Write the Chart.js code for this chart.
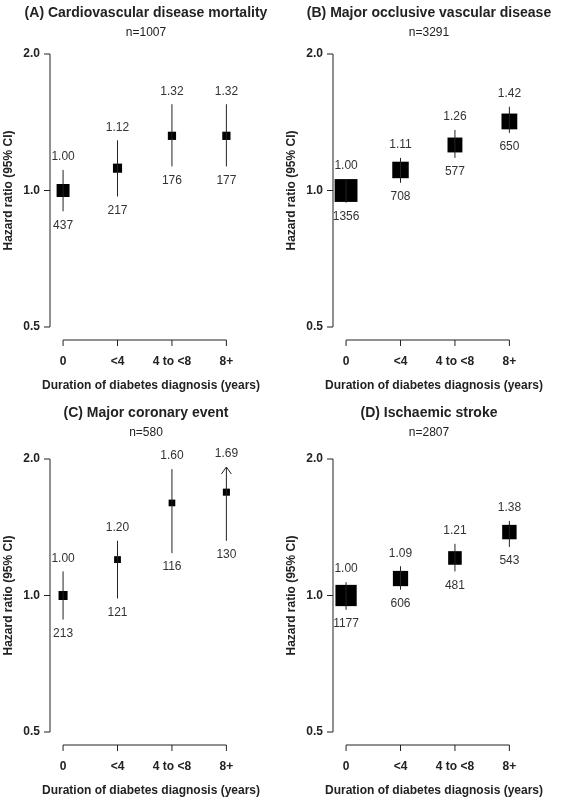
<!DOCTYPE html>
<html>
<head>
<meta charset="utf-8">
<script src="https://cdn.jsdelivr.net/npm/chart.js@4"></script>
<style>
  body { margin: 0; background: #fff; }
  .panel { position: absolute; width: 283px; height: 400px; }
</style>
</head>
<body>
<div class="panel" style="left:0;top:0"><canvas id="cA"></canvas></div>
<div class="panel" style="left:283px;top:0"><canvas id="cB"></canvas></div>
<div class="panel" style="left:0;top:400px"><canvas id="cC"></canvas></div>
<div class="panel" style="left:283px;top:400px"><canvas id="cD"></canvas></div>
<script>
var categories = ["0", "<4", "4 to <8", "8+"];
var yTicks = [0.5, 1.0, 2.0];

var titles = ["(A) Cardiovascular disease mortality", "(B) Major occlusive vascular disease",
              "(C) Major coronary event", "(D) Ischaemic stroke"];
var totals = ["n=1007", "n=3291", "n=580", "n=2807"];

var hrA = [1.00, 1.12, 1.32, 1.32];
var loA = [0.90, 0.97, 1.13, 1.13];
var hiA = [1.11, 1.29, 1.55, 1.55];
var nA = [437, 217, 176, 177];

var hrB = [1.00, 1.11, 1.26, 1.42];
var loB = [0.94, 1.04, 1.18, 1.34];
var hiB = [1.06, 1.18, 1.36, 1.53];
var nB = [1356, 708, 577, 650];

var hrC = [1.00, 1.20, 1.60, 1.69];
var loC = [0.885, 0.985, 1.24, 1.32];
var hiC = [1.13, 1.32, 1.90, 2.20];
var nC = [213, 121, 116, 130];

var hrD = [1.00, 1.09, 1.21, 1.38];
var loD = [0.93, 1.03, 1.13, 1.28];
var hiD = [1.07, 1.16, 1.30, 1.46];
var nD = [1177, 606, 481, 543];

var ciClip = 1.92; // upper CI drawn as arrow when above this

function makePanel(id, idx, hr, lo, hi, n, top) {
  var pts = hr.map(function (v, i) { return { x: i, y: v }; });
  var radii = n.map(function (v) { return 0.62 * Math.sqrt(v) / Math.SQRT2; });

  var drawer = {
    id: "rstyle",
    afterDatasetsDraw: function (chart) {
      var ctx = chart.ctx, xs = chart.scales.x, ys = chart.scales.y, a = chart.chartArea;
      ctx.save();
      ctx.strokeStyle = "#222"; ctx.fillStyle = "#222"; ctx.lineWidth = 1;
      // titles
      ctx.textAlign = "center";
      ctx.font = "bold 14px Arial, 'Liberation Sans', sans-serif";
      ctx.fillText(titles[idx], 146, 17);
      ctx.font = "12px Arial, 'Liberation Sans', sans-serif";
      ctx.fillText(totals[idx], 146, 36);
      // y axis
      ctx.beginPath();
      ctx.moveTo(a.left, ys.getPixelForValue(0.5));
      ctx.lineTo(a.left, ys.getPixelForValue(2.0));
      ctx.stroke();
      ctx.font = "bold 12px Arial, 'Liberation Sans', sans-serif";
      ctx.textAlign = "right"; ctx.textBaseline = "middle";
      yTicks.forEach(function (t) {
        var y = ys.getPixelForValue(t);
        ctx.beginPath(); ctx.moveTo(a.left, y); ctx.lineTo(a.left - 6, y); ctx.stroke();
        ctx.fillText(t.toFixed(1), a.left - 10, y);
      });
      ctx.save();
      ctx.translate(9, (a.top + a.bottom) / 2);
      ctx.rotate(-Math.PI / 2);
      ctx.textAlign = "center";
      ctx.fillText("Hazard ratio (95% CI)", 0, 0);
      ctx.restore();
      // x axis
      var ay = a.bottom + 13;
      ctx.beginPath();
      ctx.moveTo(xs.getPixelForValue(0), ay);
      ctx.lineTo(xs.getPixelForValue(categories.length - 1), ay);
      ctx.stroke();
      ctx.textAlign = "center"; ctx.textBaseline = "alphabetic";
      categories.forEach(function (c, i) {
        var x = xs.getPixelForValue(i);
        ctx.beginPath(); ctx.moveTo(x, ay); ctx.lineTo(x, ay + 6); ctx.stroke();
        ctx.fillText(c, x, ay + 25);
      });
      ctx.fillText("Duration of diabetes diagnosis (years)", (a.left + a.right) / 2 + 6, ay + 49);
      // CIs and labels
      ctx.font = "12px Arial, 'Liberation Sans', sans-serif";
      ctx.fillStyle = "#333";
      hr.forEach(function (v, i) {
        var x = xs.getPixelForValue(i);
        var up = Math.min(hi[i], ciClip);
        var yH = ys.getPixelForValue(up), yL = ys.getPixelForValue(lo[i]);
        ctx.beginPath(); ctx.moveTo(x, yH); ctx.lineTo(x, yL); ctx.stroke();
        if (hi[i] > ciClip) {
          ctx.beginPath(); ctx.moveTo(x - 5, yH + 7); ctx.lineTo(x, yH); ctx.lineTo(x + 5, yH + 7); ctx.stroke();
        }
        ctx.textBaseline = "bottom";
        ctx.fillText(v.toFixed(2), x, yH - 7);
        ctx.textBaseline = "top";
        ctx.fillText(String(n[i]), x, yL + 8);
      });
      ctx.restore();
    }
  };

  new Chart(document.getElementById(id), {
    type: "scatter",
    data: { datasets: [{ data: pts, pointStyle: "rect", pointRadius: radii, pointHoverRadius: radii,
      backgroundColor: "#000", borderColor: "#000", borderWidth: 0, order: -1 }] },
    options: {
      responsive: false, animation: false, devicePixelRatio: 1,
      layout: { padding: { left: 50, right: 43, top: top, bottom: 400 - top - 273 } },
      plugins: { legend: { display: false }, tooltip: { enabled: false } },
      scales: {
        x: { type: "linear", display: false, min: -0.24, max: 3.25 },
        y: { type: "logarithmic", display: false, min: 0.5, max: 2.0 }
      }
    },
    plugins: [drawer]
  });
}

["cA", "cB", "cC", "cD"].forEach(function (id) {
  var c = document.getElementById(id); c.width = 283; c.height = 400;
});
makePanel("cA", 0, hrA, loA, hiA, nA, 54);
makePanel("cB", 1, hrB, loB, hiB, nB, 54);
makePanel("cC", 2, hrC, loC, hiC, nC, 59);
makePanel("cD", 3, hrD, loD, hiD, nD, 59);
</script>
</body>
</html>
